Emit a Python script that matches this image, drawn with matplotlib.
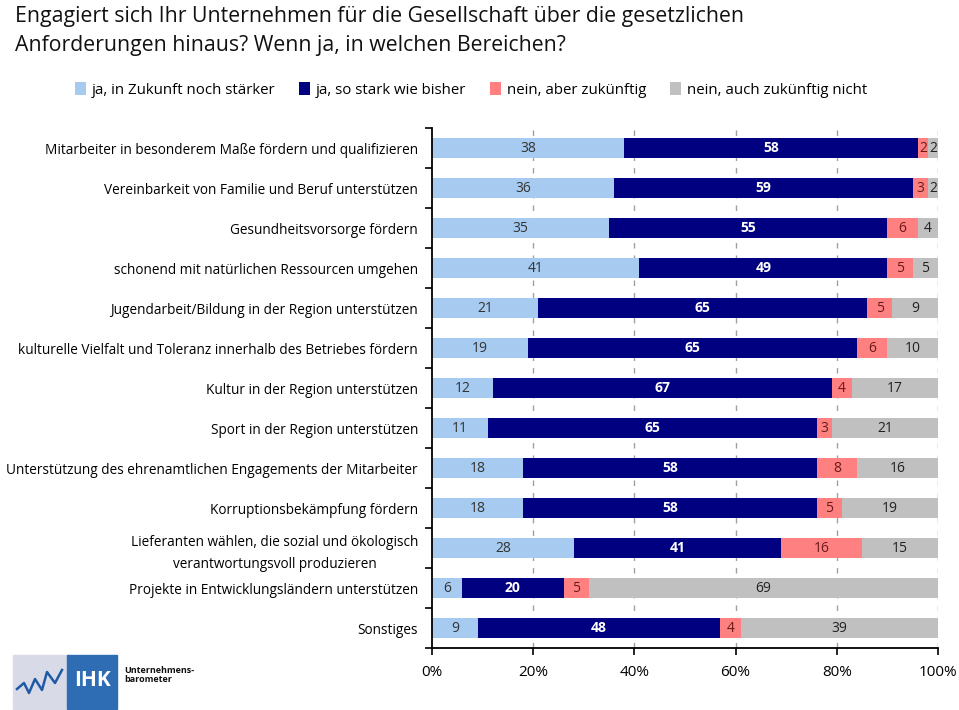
import numpy as np
import matplotlib
matplotlib.use('Agg')
import matplotlib.pyplot as plt
from matplotlib.patches import Rectangle

plt.rcParams['font.family'] = ['Open Sans', 'DejaVu Sans']

# data (percent of companies)
categories = [
    'Mitarbeiter in besonderem Maße fördern und qualifizieren',
    'Vereinbarkeit von Familie und Beruf unterstützen',
    'Gesundheitsvorsorge fördern',
    'schonend mit natürlichen Ressourcen umgehen',
    'Jugendarbeit/Bildung in der Region unterstützen',
    'kulturelle Vielfalt und Toleranz innerhalb des Betriebes fördern',
    'Kultur in der Region unterstützen',
    'Sport in der Region unterstützen',
    'Unterstützung des ehrenamtlichen Engagements der Mitarbeiter',
    'Korruptionsbekämpfung fördern',
    'Lieferanten wählen, die sozial und ökologisch\nverantwortungsvoll produzieren',
    'Projekte in Entwicklungsländern unterstützen',
    'Sonstiges',
]
staerker = [38, 36, 35, 41, 21, 19, 12, 11, 18, 18, 28, 6, 9]
wie_bisher = [58, 59, 55, 49, 65, 65, 67, 65, 58, 58, 41, 20, 48]
nein_aber = [2, 3, 6, 5, 5, 6, 4, 3, 8, 5, 16, 5, 4]
nein_nicht = [2, 2, 4, 5, 9, 10, 17, 21, 16, 19, 15, 69, 39]
series_names = ['ja, in Zukunft noch stärker', 'ja, so stark wie bisher',
                'nein, aber zukünftig', 'nein, auch zukünftig nicht']
xticks = [0, 20, 40, 60, 80, 100]

colors = ['#A6CAF0', '#000080', '#FF8080', '#C0C0C0']
text_colors = ['#333333', 'white', '#6b1a1a', '#222222']

fig = plt.figure(figsize=(9.59, 7.10), dpi=100)
ax = fig.add_axes([432 / 959, 62 / 710, 506 / 959, 520 / 710])

y = np.arange(len(categories))
left = np.zeros(len(categories))
handles = []
for vals, name, col, tcol in zip([staerker, wie_bisher, nein_aber, nein_nicht],
                                 series_names, colors, text_colors):
    bars = ax.barh(y, vals, left=left, height=0.52, color=col, label=name, zorder=2)
    ax.bar_label(bars, labels=[str(v) for v in vals], label_type='center',
                 color=tcol, fontsize=10,
                 fontweight='bold' if tcol == 'white' else 'normal')
    left += np.array(vals)
    handles.append(bars)

ax.set_xlim(0, 100)
ax.set_ylim(len(categories) - 0.5, -0.5)
ax.set_xticks(xticks)
ax.set_xticklabels([f'{v}%' for v in xticks], fontsize=11)
ax.set_yticks(y)
ax.set_yticklabels(categories, fontsize=9.8, multialignment='center', linespacing=1.6)
ax.set_yticks(np.arange(-0.5, len(categories)), minor=True)
ax.tick_params(axis='y', which='major', length=0, pad=10)
ax.tick_params(axis='y', which='minor', length=5, width=1.2, direction='out')
ax.tick_params(axis='x', length=5, width=1.2, direction='out', pad=7)
for x in xticks[1:]:
    ax.axvline(x, color='#A0A0A0', lw=1, ls=(0, (4, 5)), zorder=1)
for s in ['top', 'right']:
    ax.spines[s].set_visible(False)
for s in ['left', 'bottom']:
    ax.spines[s].set_linewidth(1.3)

fig.text(15 / 959, 1 - 6 / 710,
         'Engagiert sich Ihr Unternehmen für die Gesellschaft über die gesetzlichen\n'
         'Anforderungen hinaus? Wenn ja, in welchen Bereichen?',
         va='top', ha='left', fontsize=15.3, linespacing=1.5, color='#111111')

fig.legend(handles, series_names, loc='center', bbox_to_anchor=(471 / 959, 1 - 90 / 710),
           ncol=4, frameon=False, fontsize=10.8, handlelength=0.7, handleheight=0.9,
           handletextpad=0.4, columnspacing=1.6)

# IHK logo, bottom left
lg = fig.add_axes([0, 0, 1, 1], zorder=-1)
lg.set_xlim(0, 959)
lg.set_ylim(710, 0)
lg.axis('off')
lg.add_patch(Rectangle((13, 655), 55, 54, color='#D9DAE8'))
lg.add_patch(Rectangle((67, 655), 50, 54, color='#2E6DB4'))
lg.plot([17, 24, 29, 35, 42, 47, 55, 62], [689, 683, 693, 679, 690, 672, 683, 670],
        color='#1F5AA6', lw=1.8)
lg.text(92, 681, 'IHK', color='white', fontsize=15, fontweight='bold', ha='center', va='center')
lg.text(124, 675, 'Unternehmens-\nbarometer', color='#111111', fontsize=6.5,
        fontweight='bold', ha='left', va='center', linespacing=1.1)

fig.savefig('out.png', dpi=100)
